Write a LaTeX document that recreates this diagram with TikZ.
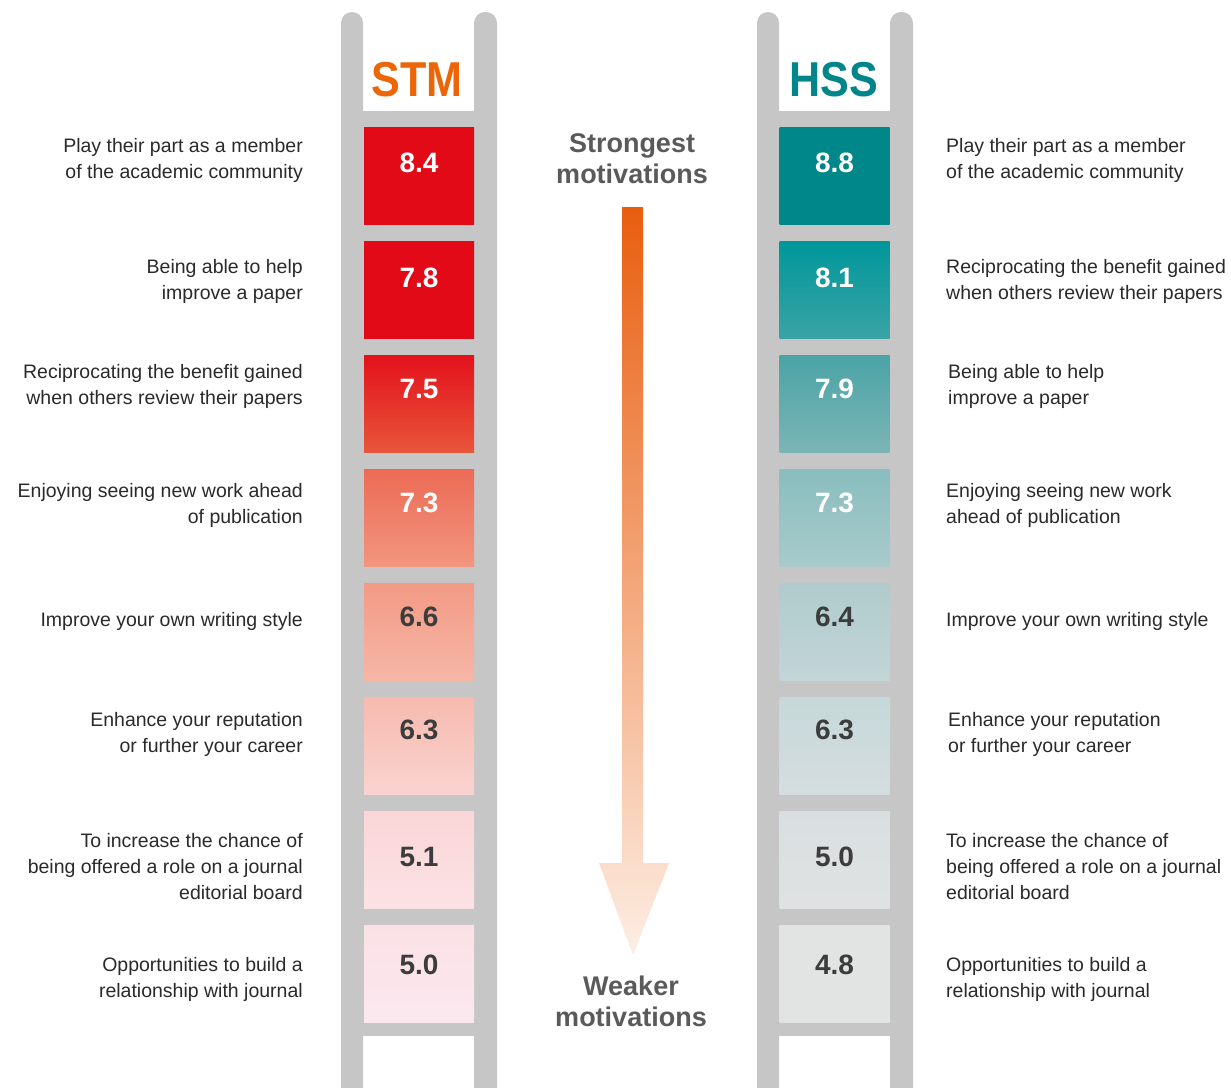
\documentclass[tikz,border=0pt]{standalone}
\usepackage{fontspec}
\setmainfont{Liberation Sans}
\definecolor{rail}{HTML}{C6C6C6}
\definecolor{lbl}{HTML}{2A2A2A}
\definecolor{headgray}{HTML}{5A5A5A}
\definecolor{numdark}{HTML}{3C3C3C}
\definecolor{stmor}{HTML}{EC6608}
\definecolor{hssteal}{HTML}{00868A}
\definecolor{arrtop}{HTML}{E85E0F}
\definecolor{arrbot}{HTML}{FDEEE4}
% STM box colours
\definecolor{Sa1}{HTML}{E30A17}\definecolor{Sb1}{HTML}{E30A17}
\definecolor{Sa2}{HTML}{E30A17}\definecolor{Sb2}{HTML}{E30A17}
\definecolor{Sa3}{HTML}{E3111B}\definecolor{Sb3}{HTML}{E8553B}
\definecolor{Sa4}{HTML}{EC6A55}\definecolor{Sb4}{HTML}{F2957F}
\definecolor{Sa5}{HTML}{F29A85}\definecolor{Sb5}{HTML}{F6B6A6}
\definecolor{Sa6}{HTML}{F7BAAE}\definecolor{Sb6}{HTML}{F9D3D0}
\definecolor{Sa7}{HTML}{FAD6D8}\definecolor{Sb7}{HTML}{FCE2E5}
\definecolor{Sa8}{HTML}{FBE1E6}\definecolor{Sb8}{HTML}{FBE8EF}
% HSS box colours
\definecolor{Ha1}{HTML}{00878A}\definecolor{Hb1}{HTML}{00878A}
\definecolor{Ha2}{HTML}{00979A}\definecolor{Hb2}{HTML}{3AA3A5}
\definecolor{Ha3}{HTML}{4AA3A6}\definecolor{Hb3}{HTML}{7BB5B6}
\definecolor{Ha4}{HTML}{89BDBE}\definecolor{Hb4}{HTML}{A9CACB}
\definecolor{Ha5}{HTML}{B0CBCD}\definecolor{Hb5}{HTML}{C2D5D7}
\definecolor{Ha6}{HTML}{C6D8D9}\definecolor{Hb6}{HTML}{D5DDDF}
\definecolor{Ha7}{HTML}{D9DFE0}\definecolor{Hb7}{HTML}{DFE2E3}
\definecolor{Ha8}{HTML}{E2E3E3}\definecolor{Hb8}{HTML}{E2E3E3}
\begin{document}
\begin{tikzpicture}[x=1pt,y=-1pt,
  railfill/.style={fill=rail},
  scorebox/.style={draw=none, minimum width=110pt, minimum height=97pt, inner sep=0pt},
  numtext/.style={font=\fontsize{28}{28}\selectfont\bfseries, inner sep=0pt},
  lbltext/.style={font=\fontsize{19.5}{26}\selectfont, text=lbl, inner sep=0pt},
  lleft/.style={lbltext, align=right, anchor=east},
  lright/.style={lbltext, align=left, anchor=west},
  headtext/.style={font=\fontsize{27}{31}\selectfont\bfseries, text=headgray, align=center, inner sep=0pt},
  ladderhead/.style={font=\fontsize{49}{49}\selectfont\bfseries, inner sep=0pt}]
\path[use as bounding box] (0,0) rectangle (1231,1087);
\clip (0,0) rectangle (1231,1087);
\fill[white] (0,0) rectangle (1231,1087);

% ladders: rails and rung background
\fill[railfill, rounded corners=11pt] (341,12) rectangle (363,1110);
\fill[railfill, rounded corners=11pt] (474,12) rectangle (497,1110);
\fill[railfill] (363,111) rectangle (474,1036);
\fill[railfill, rounded corners=11pt] (757,12) rectangle (779,1110);
\fill[railfill, rounded corners=11pt] (890,12) rectangle (913,1110);
\fill[railfill] (779,111) rectangle (890,1036);

% headers
\node[ladderhead, text=stmor] (stm) at (417,80) {\scalebox{0.88}[1]{STM}};
\node[ladderhead, text=hssteal] (hss) at (834,80) {\scalebox{0.88}[1]{HSS}};

% boxes and scores
\foreach \i/\sn/\sc/\hn/\hc/\ny in {1/8.4/white/8.8/white/163, 2/7.8/white/8.1/white/278,
    3/7.5/white/7.9/white/389, 4/7.3/white/7.3/white/503, 5/6.6/numdark/6.4/numdark/617,
    6/6.3/numdark/6.3/numdark/730, 7/5.1/numdark/5.0/numdark/857, 8/5.0/numdark/4.8/numdark/965}{
  \pgfmathsetmacro{\cy}{175.5+114*(\i-1)}
  \node[scorebox, top color=Sa\i, bottom color=Sb\i] (s\i) at (419,\cy) {};
  \node[scorebox, top color=Ha\i, bottom color=Hb\i] (h\i) at (834.5,\cy) {};
  \node[numtext, text=\sc] (sn\i) at (419,\ny) {\sn};
  \node[numtext, text=\hc] (hn\i) at (834.5,\ny) {\hn};
}

% left labels (STM)
\node[lleft] (sl1) at (303,160) {Play their part as a member\\of the academic community};
\node[lleft] (sl2) at (303,281) {Being able to help\\improve a paper};
\node[lleft] (sl3) at (303,386) {Reciprocating the benefit gained\\when others review their papers};
\node[lleft] (sl4) at (303,505) {Enjoying seeing new work ahead\\of publication};
\node[lleft] (sl5) at (303,621) {Improve your own writing style};
\node[lleft] (sl6) at (303,734) {Enhance your reputation\\or further your career};
\node[lleft] (sl7) at (303,867) {To increase the chance of\\being offered a role on a journal\\editorial board};
\node[lleft] (sl8) at (303,979) {Opportunities to build a\\relationship with journal};

% right labels (HSS)
\node[lright] (hl1) at (946,160) {Play their part as a member\\of the academic community};
\node[lright] (hl2) at (946,281) {Reciprocating the benefit gained\\when others review their papers};
\node[lright] (hl3) at (948,386) {Being able to help\\improve a paper};
\node[lright] (hl4) at (946,505) {Enjoying seeing new work\\ahead of publication};
\node[lright] (hl5) at (946,621) {Improve your own writing style};
\node[lright] (hl6) at (948,734) {Enhance your reputation\\or further your career};
\node[lright] (hl7) at (946,867) {To increase the chance of\\being offered a role on a journal\\editorial board};
\node[lright] (hl8) at (946,979) {Opportunities to build a\\relationship with journal};

% centre
\node[headtext] (strong) at (632,159) {Strongest\\motivations};
\node[headtext] (weak) at (631,1001) {Weaker\\motivations};
\shade[top color=arrtop, bottom color=arrbot]
  (622,207) -- (643,207) -- (643,863) -- (669,863) -- (633,955) -- (599,863) -- (622,863) -- cycle;
\end{tikzpicture}
\end{document}
